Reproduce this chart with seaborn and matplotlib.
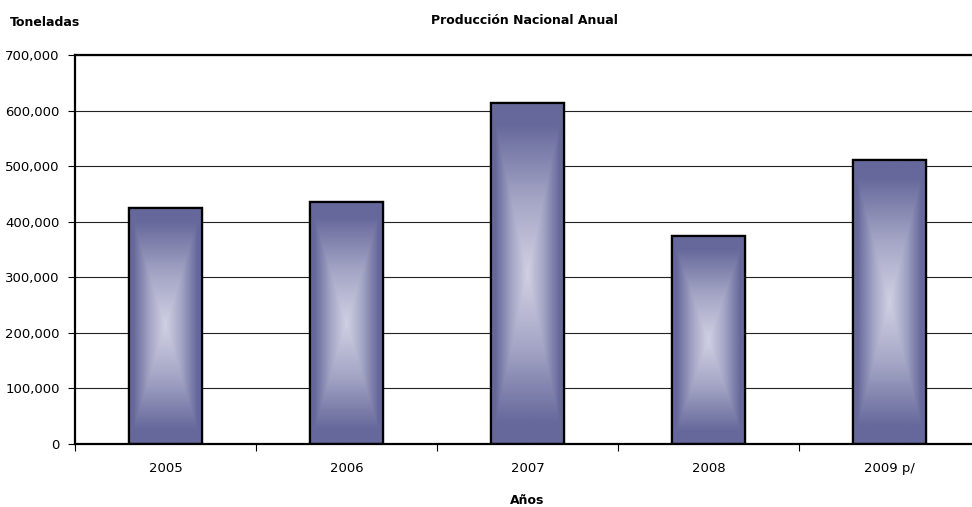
import numpy as np
import pandas as pd
import matplotlib
matplotlib.use("Agg")
import matplotlib.pyplot as plt
from matplotlib.colors import LinearSegmentedColormap
import seaborn as sns

years = ["2005", "2006", "2007", "2008", "2009 p/"]
toneladas = [425000, 435000, 613000, 374000, 511000]

df = pd.DataFrame({"Año": years, "Toneladas": toneladas})

sns.set_theme(style="white")
plt.rcParams["font.family"] = ["DejaVu Sans"]
plt.rcParams["text.color"] = "black"

fig = plt.figure(figsize=(9.72, 5.07), dpi=100)
W, H = 972, 507
# axes right edge runs past the figure, like the original
ax = fig.add_axes([75 / W, (H - 444) / H, 905 / W, 389 / H])

dark = "#66689b"
light = "#d0d0e3"
cmap = LinearSegmentedColormap.from_list("grad", [light, "#a4a5c5", dark])

sns.barplot(data=df, x="Año", y="Toneladas", ax=ax, width=0.4,
            color=dark, edgecolor="black", linewidth=1.6, saturation=1)

# rectangular "from center" gradient inside each bar
n = 300
gx = np.linspace(-1, 1, n)
GX, GY = np.meshgrid(gx, gx)
grad = np.clip(np.maximum(np.abs(GX), np.abs(GY)) / 0.88, 0, 1)
for p in ax.patches:
    x0, w, h = p.get_x(), p.get_width(), p.get_height()
    im = ax.imshow(grad, cmap=cmap, extent=[x0, x0 + w, 0, h],
                   aspect="auto", zorder=p.get_zorder() + 0.1, vmin=0, vmax=1)
    im.set_clip_path(p)
    # outline on top of the gradient
    ax.add_patch(plt.Rectangle((x0, 0), w, h, fill=False, edgecolor="black",
                               linewidth=1.6, zorder=p.get_zorder() + 0.2))

ax.set_xlim(-0.5, 4.5)
ax.set_ylim(0, 700000)
ax.set_yticks(np.arange(0, 700001, 100000))
ax.yaxis.set_major_formatter(matplotlib.ticker.FuncFormatter(lambda v, _: f"{int(v):,}"))
ax.set_xticks(range(len(years)))
ax.set_xticklabels(years)
ax.set_xticks(np.arange(-0.5, 4.6, 1), minor=True)

ax.grid(axis="y", color="#222222", linewidth=0.8)
ax.set_axisbelow(True)
for s in ["left", "bottom", "top"]:
    ax.spines[s].set_color("black")
    ax.spines[s].set_linewidth(1.6)
ax.spines["right"].set_visible(False)

ax.tick_params(axis="x", which="major", length=0, pad=13, labelsize=9.5, colors="black")
ax.tick_params(axis="x", which="minor", length=5, width=0.8, color="black", bottom=True)
ax.tick_params(axis="y", length=5, width=0.8, pad=6, labelsize=9.5, colors="black", left=True)
ax.set_xlabel("")
ax.set_ylabel("")

fig.text(10 / W, 1 - 22 / H, "Toneladas", fontsize=9, fontweight="bold", va="center", ha="left")
fig.text(524 / W, 1 - 20 / H, "Producción Nacional Anual", fontsize=9, fontweight="bold",
         va="center", ha="center")
fig.text(527 / W, 1 - 500 / H, "Años", fontsize=9, fontweight="bold", va="center", ha="center")

fig.savefig("out.png", dpi=100)
